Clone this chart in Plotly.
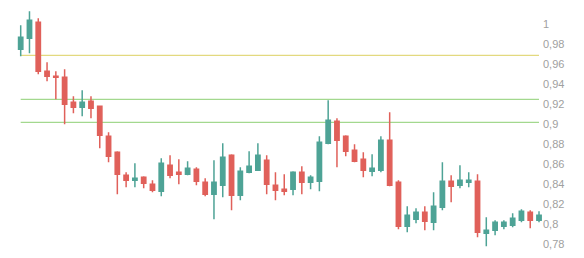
import plotly.graph_objects as go

# OHLC values (60 sessions)
opens = [0.975, 0.986, 1.002, 0.953, 0.948, 0.947, 0.922, 0.917, 0.923, 0.918,
         0.888, 0.872, 0.849, 0.844, 0.847, 0.840, 0.833, 0.859, 0.852, 0.850,
         0.855, 0.842, 0.830, 0.839, 0.869, 0.829, 0.852, 0.854, 0.864, 0.839,
         0.835, 0.835, 0.852, 0.842, 0.843, 0.881, 0.903, 0.888, 0.874, 0.865,
         0.853, 0.854, 0.884, 0.842, 0.798, 0.805, 0.812, 0.802, 0.817, 0.843,
         0.839, 0.842, 0.843, 0.791, 0.794, 0.798, 0.799, 0.804, 0.812, 0.804]
highs = [0.999, 1.013, 1.006, 0.962, 0.953, 0.955, 0.928, 0.934, 0.928, 0.918,
         0.892, 0.873, 0.852, 0.861, 0.848, 0.844, 0.866, 0.869, 0.865, 0.863,
         0.857, 0.846, 0.864, 0.881, 0.870, 0.857, 0.873, 0.881, 0.869, 0.852,
         0.850, 0.853, 0.858, 0.849, 0.888, 0.924, 0.906, 0.889, 0.880, 0.872,
         0.870, 0.888, 0.912, 0.844, 0.818, 0.816, 0.818, 0.832, 0.862, 0.849,
         0.859, 0.852, 0.850, 0.807, 0.804, 0.804, 0.811, 0.815, 0.814, 0.813]
lows = [0.968, 0.971, 0.950, 0.943, 0.925, 0.900, 0.911, 0.908, 0.906, 0.876,
        0.862, 0.830, 0.837, 0.837, 0.836, 0.832, 0.828, 0.846, 0.840, 0.849,
        0.839, 0.828, 0.805, 0.827, 0.814, 0.824, 0.851, 0.854, 0.830, 0.824,
        0.829, 0.829, 0.830, 0.835, 0.833, 0.880, 0.857, 0.868, 0.862, 0.847,
        0.848, 0.852, 0.838, 0.795, 0.792, 0.801, 0.794, 0.794, 0.814, 0.822,
        0.836, 0.837, 0.787, 0.778, 0.789, 0.795, 0.797, 0.802, 0.796, 0.802]
closes = [0.987, 1.004, 0.953, 0.948, 0.947, 0.920, 0.917, 0.922, 0.916, 0.889,
          0.868, 0.850, 0.844, 0.846, 0.841, 0.834, 0.861, 0.849, 0.850, 0.856,
          0.843, 0.830, 0.842, 0.867, 0.829, 0.853, 0.858, 0.869, 0.840, 0.834,
          0.833, 0.852, 0.842, 0.847, 0.882, 0.904, 0.884, 0.873, 0.863, 0.854,
          0.856, 0.884, 0.839, 0.798, 0.809, 0.812, 0.803, 0.818, 0.843, 0.838,
          0.844, 0.844, 0.792, 0.794, 0.802, 0.802, 0.806, 0.813, 0.804, 0.809]
sessions = list(range(len(opens)))

# horizontal reference levels
levels = [0.969, 0.925, 0.902]
level_colors = ["#dcd060", "#8ccf72", "#8ccf72"]

fig = go.Figure()
fig.add_trace(go.Candlestick(
    x=sessions, open=opens, high=highs, low=lows, close=closes,
    increasing=dict(line=dict(color="#4ea396", width=1.5), fillcolor="#4ea396"),
    decreasing=dict(line=dict(color="#e0605a", width=1.5), fillcolor="#e0605a"),
    showlegend=False,
))

for lv, col in zip(levels, level_colors):
    fig.add_shape(type="line", xref="x", yref="y",
                  x0=sessions[0], x1=sessions[-1], y0=lv, y1=lv,
                  line=dict(color=col, width=1), layer="below")

fig.update_layout(
    width=584, height=258,
    margin=dict(l=12, r=42, t=5, b=5),
    paper_bgcolor="white", plot_bgcolor="white",
    separators=", ",
    showlegend=False,
    xaxis=dict(range=[-0.99, 59.34], visible=False, rangeslider=dict(visible=False),
               showgrid=False, zeroline=False),
    yaxis=dict(side="right", range=[0.7713, 1.0193], tick0=0, dtick=0.02,
               showgrid=False, zeroline=False, showline=False, ticks="",
               tickfont=dict(family="Arial, Liberation Sans, sans-serif", size=11, color="#a0a0a0")),
)

fig.write_html("out.html")
